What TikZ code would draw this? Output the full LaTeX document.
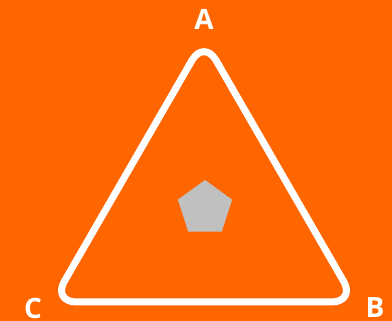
\documentclass[tikz,border=0pt]{standalone}
\usepackage{fontspec}
\setmainfont{Open Sans}
\usetikzlibrary{shapes.geometric}
\definecolor{bgorange}{HTML}{FF6600}
\definecolor{pentgray}{HTML}{C0C0C0}
\begin{document}
\begin{tikzpicture}[x=1pt,y=-1pt,
  lbl/.style={text=white,font=\bfseries\fontsize{28}{30}\selectfont,inner sep=0pt,anchor=center},
  tri/.style={draw=white,line width=7pt,rounded corners=24pt,line join=round}]
\fill[bgorange] (0,0) rectangle (392,321);
\useasboundingbox (0,0) rectangle (392,321);
\coordinate (va) at (204,39.5);
\coordinate (vb) at (355.6,302);
\coordinate (vc) at (52.4,302);
\draw[tri] (va) -- (vb) -- (vc) -- cycle;
\node[lbl] (A) at (204,19) {A};
\node[lbl] (B) at (375,308) {B};
\node[lbl] (C) at (33,308) {C};
\node[draw=none,fill=pentgray,regular polygon,regular polygon sides=5,minimum size=57pt,inner sep=0pt] (P) at (205,208.5) {};
\end{tikzpicture}
\end{document}
